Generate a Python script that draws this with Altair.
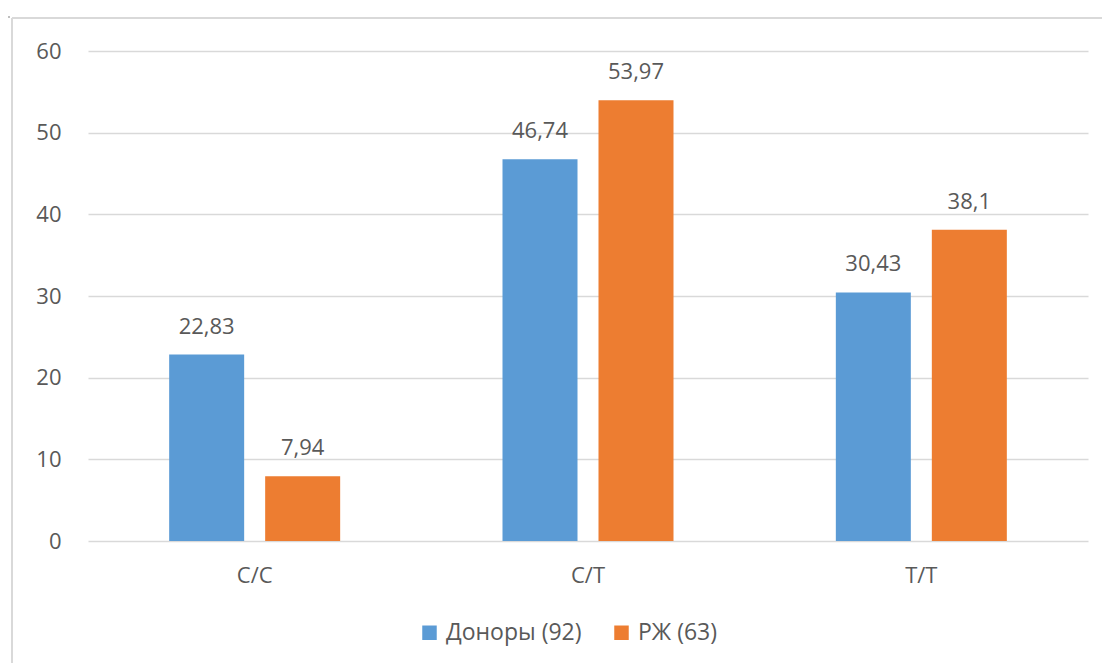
import altair as alt
import pandas as pd

categories = ["C/C", "C/T", "T/T"]
series = ["Доноры (92)", "РЖ (63)"]
donors = [22.83, 46.74, 30.43]
rzh = [7.94, 53.97, 38.1]
colors = ["#5B9BD5", "#ED7D31"]
y_ticks = [0, 10, 20, 30, 40, 50, 60]

rows = []
for i, c in enumerate(categories):
    for s, vals in zip(series, [donors, rzh]):
        v = vals[i]
        rows.append({"cat": c, "series": s, "value": v,
                     "label": f"{v:g}".replace(".", ",")})
df = pd.DataFrame(rows)

FONT = "Open Sans"
GRAY = "#595959"
FS = 22

base = alt.Chart(df)

x = alt.X("cat:N", sort=categories, title=None,
          scale=alt.Scale(paddingInner=0, paddingOuter=0),
          axis=alt.Axis(labelAngle=0, labelFont=FONT, labelFontSize=FS,
                        labelColor=GRAY, labelPadding=24, ticks=False,
                        domain=False, grid=False))
xo = alt.XOffset("series:N", sort=series,
                 scale=alt.Scale(paddingInner=0.21875, paddingOuter=0.8455))
y = alt.Y("value:Q", title=None,
          scale=alt.Scale(domain=[0, 60], nice=False),
          axis=alt.Axis(values=y_ticks, labelFont=FONT, labelFontSize=FS,
                        labelColor=GRAY, labelPadding=27, ticks=False,
                        domain=False, gridColor="#D9D9D9", gridWidth=1.6))

bars = base.mark_bar().encode(
    x=x, xOffset=xo, y=y,
    color=alt.Color("series:N", sort=series,
                    scale=alt.Scale(domain=series, range=colors),
                    legend=alt.Legend(title=None, orient="none", direction="horizontal",
                                      legendX=330, legendY=570,
                                      labelFont=FONT, labelFontSize=23, labelColor=GRAY,
                                      symbolType="square", symbolSize=210,
                                      symbolStrokeWidth=0, columnPadding=28,
                                      labelOffset=5)),
)

text = base.mark_text(baseline="alphabetic", dy=-21, font=FONT, fontSize=FS,
                      color=GRAY).encode(
    x=alt.X("cat:N", sort=categories), xOffset=xo,
    y="value:Q", text="label:N")

border_top = alt.Chart(pd.DataFrame({"a": [0]})).mark_rule(
    color="#D9D9D9", strokeWidth=2, clip=False).encode(
    x=alt.value(-76), x2=alt.value(1030), y=alt.value(-33))
border_left = alt.Chart(pd.DataFrame({"a": [0]})).mark_rule(
    color="#D9D9D9", strokeWidth=2, clip=False).encode(
    x=alt.value(-76), y=alt.value(-33), y2=alt.value(630))
corner_tick = alt.Chart(pd.DataFrame({"a": [0]})).mark_rule(
    color="#808080", strokeWidth=1.2, clip=False).encode(
    x=alt.value(-82), x2=alt.value(-78), y=alt.value(-34))

chart = alt.layer(bars, text, border_top, border_left, corner_tick).properties(
    width=1000, height=490,
    autosize=alt.AutoSizeParams(type="none"),
    padding={"left": 80, "top": 43, "right": 14, "bottom": 122},
    background="white",
).configure_view(stroke=None).configure_axisX(grid=False)

chart.save("out.html", embed_options={"renderer": "svg", "actions": False})
